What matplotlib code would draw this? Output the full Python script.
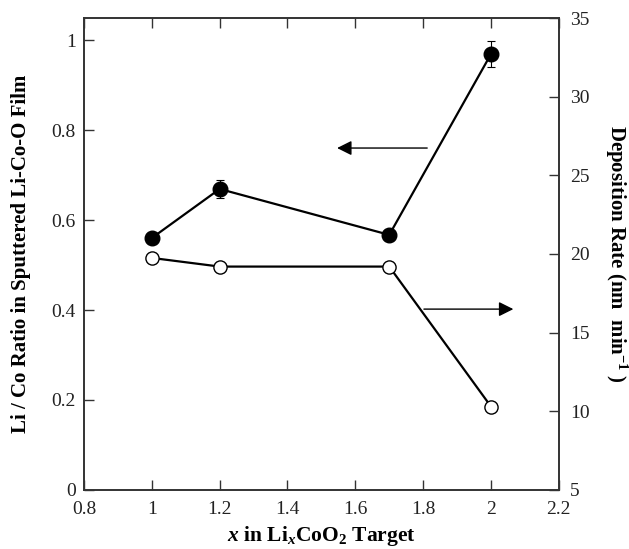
import numpy as np
import matplotlib
matplotlib.use("Agg")
import matplotlib.pyplot as plt

plt.rcParams["font.family"] = "Liberation Serif"
plt.rcParams["mathtext.fontset"] = "custom"
plt.rcParams["mathtext.rm"] = "Liberation Serif:bold"
plt.rcParams["mathtext.it"] = "Liberation Serif:italic:bold"
plt.rcParams["mathtext.bf"] = "Liberation Serif:bold"

# Data
x_target = [1.0, 1.2, 1.7, 2.0]
li_co_ratio = [0.56, 0.669, 0.567, 0.969]
ratio_err = [0.008, 0.019, 0.008, 0.029]
dep_rate = [19.75, 19.2, 19.2, 10.3]

fig = plt.figure(figsize=(6.29, 5.49), dpi=100)
ax = fig.add_axes([0.1335, 0.1075, 0.755, 0.8597])
ax2 = ax.twinx()

# Li/Co ratio (left axis)
ax.errorbar(x_target, li_co_ratio, yerr=ratio_err, color="black", lw=1.6,
            marker="o", ms=10.5, mfc="black", mec="black",
            elinewidth=0.8, capsize=3, capthick=0.8, zorder=3)

# Deposition rate (right axis)
ax2.plot(x_target, dep_rate, color="black", lw=1.6, marker="o", ms=9.5,
         mfc="white", mec="black", mew=1.0, zorder=3)

# Arrows pointing to the axes
ax.annotate("", xy=(1.538, 0.76), xytext=(1.82, 0.76),
            arrowprops=dict(arrowstyle="-|>", color="black", lw=1.0,
                            mutation_scale=22))
ax.annotate("", xy=(2.074, 0.402), xytext=(1.794, 0.402),
            arrowprops=dict(arrowstyle="-|>", color="black", lw=1.0,
                            mutation_scale=22))

ax.set_xlim(0.8, 2.2)
ax.set_ylim(0, 1.049)
ax2.set_ylim(5, 35)

ax.set_xticks([0.8, 1.0, 1.2, 1.4, 1.6, 1.8, 2.0, 2.2])
ax.set_xticklabels(["0.8", "1", "1.2", "1.4", "1.6", "1.8", "2", "2.2"])
ax.set_yticks([0, 0.2, 0.4, 0.6, 0.8, 1.0])
ax.set_yticklabels(["0", "0.2", "0.4", "0.6", "0.8", "1"])
ax2.set_yticks([5, 10, 15, 20, 25, 30, 35])

ax.tick_params(axis="x", direction="in", top=True, length=7, width=1,
               labelsize=14, pad=8, colors="#333333", labelcolor="#222222")
ax.tick_params(axis="y", direction="in", length=7, width=1, labelsize=14,
               pad=6, colors="#333333", labelcolor="#222222")
ax2.tick_params(axis="y", direction="in", length=7, width=1, labelsize=14,
                pad=8, colors="#333333", labelcolor="#222222")

for a in (ax, ax2):
    for s in a.spines.values():
        s.set_linewidth(1.2)
        s.set_color("#333333")

ax.set_xlabel(r"$x$ in Li$_x$CoO$_2$ Target", fontsize=15.5,
              fontweight="bold", va="center", ha="center")
ax.xaxis.set_label_coords(0.5, -0.097)
ax.set_ylabel("Li / Co Ratio in Sputtered Li-Co-O Film", fontsize=15,
              fontweight="bold", va="center", ha="center")
ax.yaxis.set_label_coords(-0.133, 0.5)
ax2.set_ylabel(r"Deposition Rate (nm  min$^{-1}$ )", fontsize=15,
               fontweight="bold", rotation=270, va="center", ha="center")
ax2.yaxis.set_label_coords(1.12, 0.5)

fig.savefig("out.png", dpi=100)
